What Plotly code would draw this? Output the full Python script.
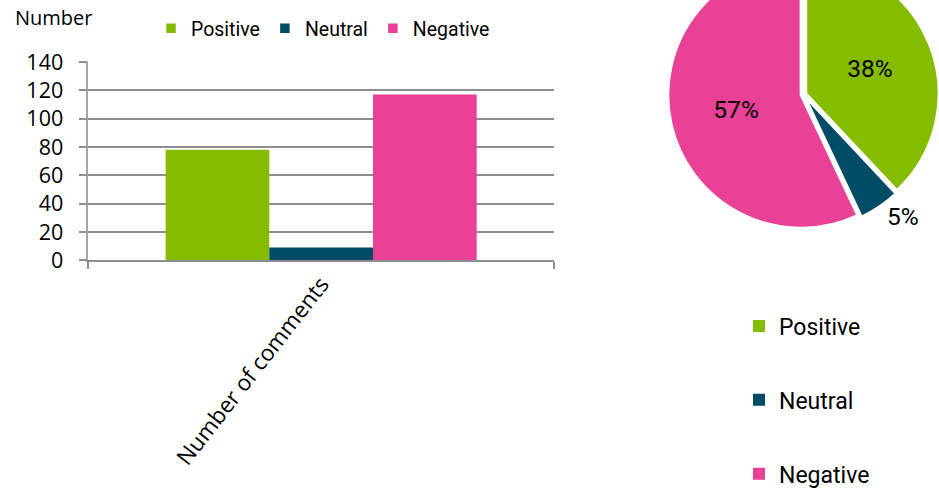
import plotly.graph_objects as go

# ---- data ----
categories = ["Positive", "Neutral", "Negative"]
axis_category = ["Number of comments"]
comment_counts = [78, 9, 117]
share_percent = [38, 5, 57]
y_ticks = [0, 20, 40, 60, 80, 100, 120, 140]
colors = ["#85BC00", "#004C66", "#E84196"]

# ---- geometry helpers (reference pixel coords -> paper fractions) ----
SHIFT = 42                 # figure drawn taller and shifted up so the pie is clipped at the top like the reference
EXTRA = 40                 # spare room below the visible area
W, H = 939, 490 + SHIFT + EXTRA


def px_x(v):
    return v / W


def px_y(v):
    return 1 - (v + SHIFT) / H


AXIS_FONT = "Open Sans"
LEG_FONT = "Roboto"

fig = go.Figure()

for name, val, col in zip(categories, comment_counts, colors):
    fig.add_trace(go.Bar(
        x=axis_category, y=[val], name=name,
        marker=dict(color=col, line=dict(width=0)),
        legend="legend2", legendgroup=name,
        hoverinfo="name+y",
    ))

fig.add_trace(go.Pie(
    labels=categories, values=share_percent,
    marker=dict(colors=colors, line=dict(color="white", width=2.5)),
    sort=False, direction="clockwise", rotation=0, pull=0.02,
    texttemplate="%{percent:.0%}",
    textposition=["inside", "outside", "inside"],
    insidetextorientation="horizontal",
    textfont=dict(family=LEG_FONT, size=24.5, color="black"),
    domain=dict(x=[px_x(668), 1.0], y=[px_y(230), px_y(-41)]),
    legend="legend",
    automargin=False,
))

grid_col = "#8E8E8E"
fig.update_layout(
    template="none",
    width=W, height=H,
    margin=dict(l=0, r=0, t=0, b=0),
    paper_bgcolor="white", plot_bgcolor="white",
    barmode="group", bargap=0.332, bargroupgap=0,
    xaxis=dict(
        domain=[px_x(88.3), px_x(554)],
        type="category", range=[-0.5, 0.5],
        showline=True, linecolor=grid_col, linewidth=1.5,
        ticks="outside", tickson="boundaries", ticklen=7, tickcolor=grid_col, tickwidth=1.5,
        tickangle=-52, tickfont=dict(family=AXIS_FONT, size=22.5, color="black"),
        showgrid=False, zeroline=False, automargin=False, fixedrange=True,
    ),
    yaxis=dict(
        domain=[px_y(260.3), px_y(62)],
        range=[0, 140], tickvals=y_ticks,
        showgrid=True, gridcolor=grid_col, gridwidth=1.5,
        showline=True, linecolor="#A6A6A6", linewidth=1.5,
        ticks="outside", ticklen=8, tickcolor=grid_col, tickwidth=1.5,
        ticklabelstandoff=11,
        tickfont=dict(family=AXIS_FONT, size=21.5, color="black"),
        zeroline=False, automargin=False, fixedrange=True,
    ),
    legend=dict(
        orientation="h", x=px_x(151), xanchor="left", y=px_y(28.5), yanchor="middle",
        font=dict(family=LEG_FONT, size=19.5, color="black"),
        bgcolor="rgba(0,0,0,0)", itemclick=False, itemdoubleclick=False,
    ),
    legend2=dict(
        orientation="v", x=px_x(739), xanchor="left", y=px_y(304.5), yanchor="top",
        font=dict(family=LEG_FONT, size=23, color="black"),
        tracegroupgap=41,
        bgcolor="rgba(0,0,0,0)", itemclick=False, itemdoubleclick=False,
    ),
    annotations=[dict(
        text="Number", xref="paper", yref="paper",
        x=px_x(13), xanchor="left", y=px_y(17.5), yanchor="middle",
        showarrow=False, font=dict(family=AXIS_FONT, size=20, color="black"),
    )],
)

post = (
    "document.body.style.margin='0';"
    "document.body.style.overflow='hidden';"
    "var g=document.getElementById('{plot_id}');"
    "g.style.transform='translateY(-%dpx)';" % SHIFT
)

fig.write_html("out.html", config={"displayModeBar": False}, post_script=post)
